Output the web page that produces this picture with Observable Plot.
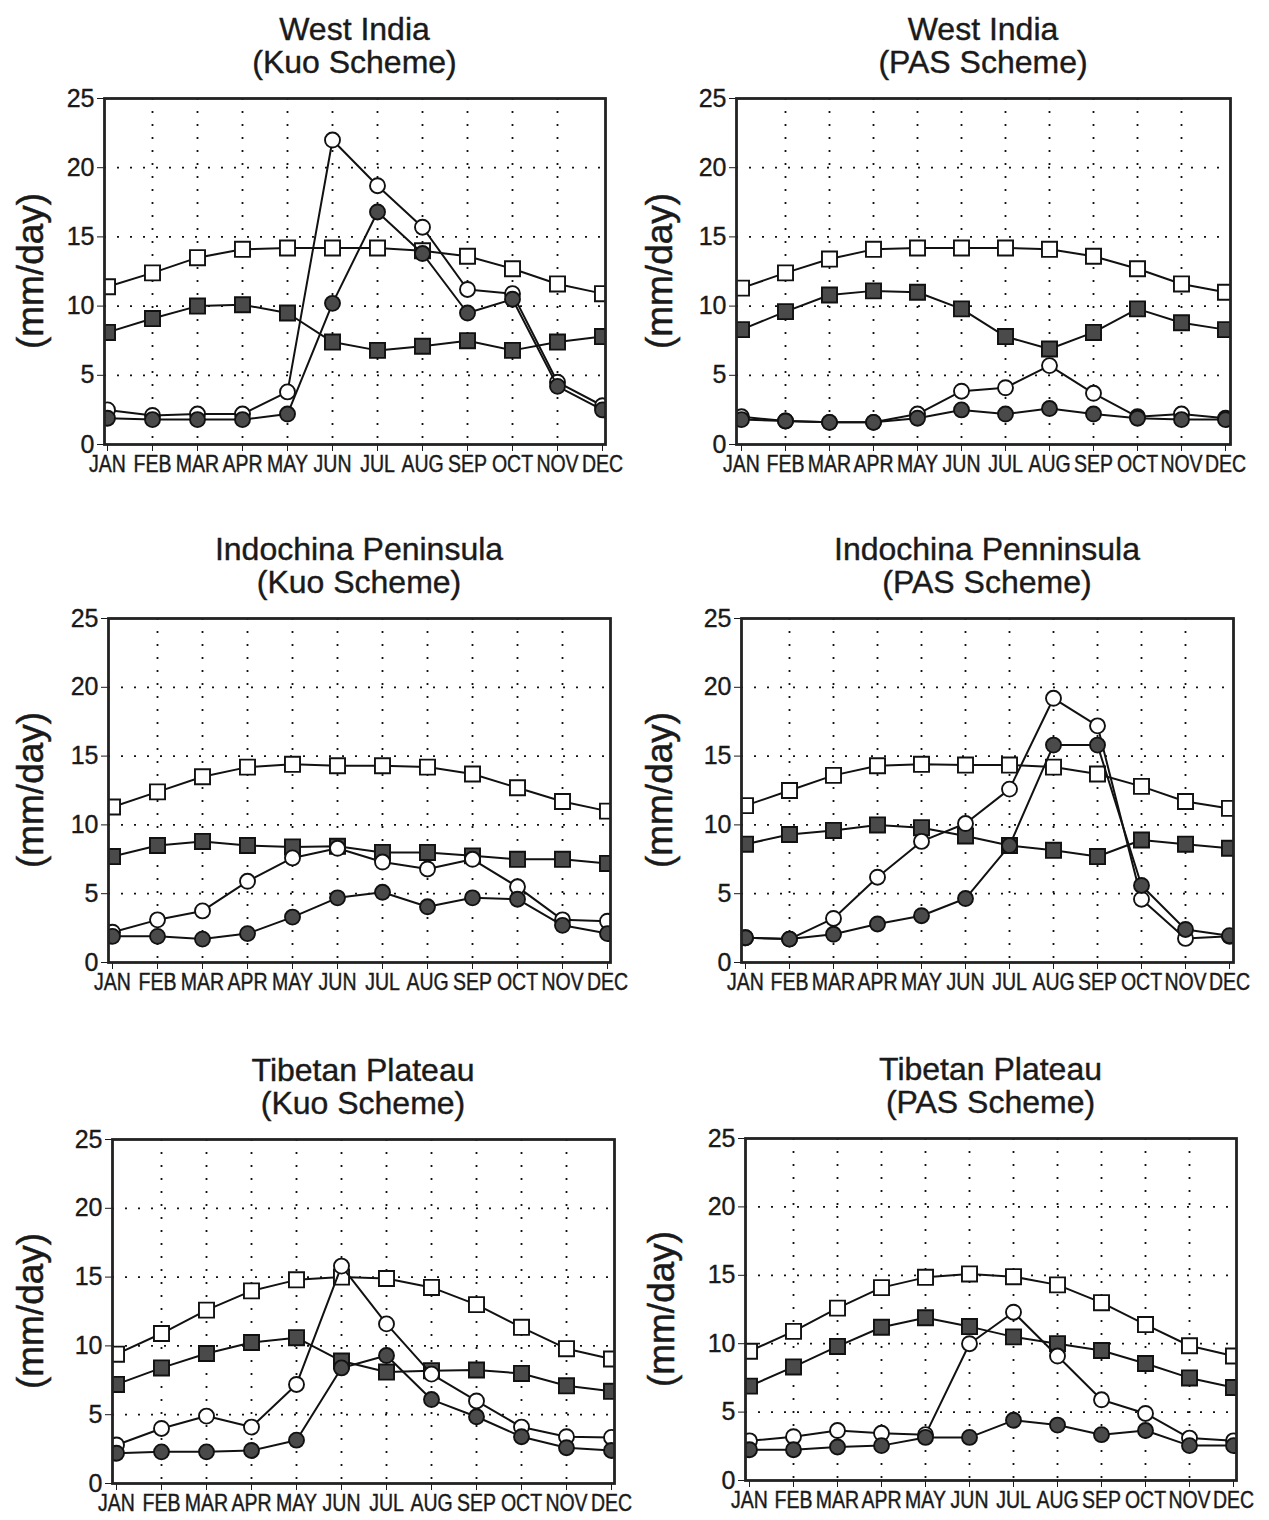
<!DOCTYPE html>
<html><head><meta charset="utf-8">
<script src="https://cdn.jsdelivr.net/npm/d3@7"></script>
<script src="https://cdn.jsdelivr.net/npm/@observablehq/plot@0.6"></script>
<style>
body{margin:0;background:#fff;}
#root{position:relative;width:1269px;height:1520px;font-family:"Liberation Sans",Arial,sans-serif;color:#1a1a1a;overflow:hidden;}
.title{position:absolute;text-align:center;font-size:32px;line-height:33px;white-space:nowrap;transform:translateX(-50%);-webkit-text-stroke:0.4px #1a1a1a;}
.ylab{position:absolute;font-size:37px;white-space:nowrap;transform:translate(-50%,-50%) rotate(-90deg);-webkit-text-stroke:0.5px #1a1a1a;}
.panel{position:absolute;}
</style></head><body><div id="root"></div>
<script>
const months = ["JAN","FEB","MAR","APR","MAY","JUN","JUL","AUG","SEP","OCT","NOV","DEC"];
const yTicks = [0,5,10,15,20,25];
const gridY = [5,10,15,20];

// West India (Kuo)
const wiKuoOpenSq   = [11.4,12.4,13.5,14.1,14.2,14.2,14.2,14.0,13.6,12.7,11.6,10.9];
const wiKuoFilledSq = [8.1,9.1,10.0,10.1,9.5,7.4,6.8,7.1,7.5,6.8,7.4,7.8];
const wiKuoOpenCi   = [2.5,2.1,2.2,2.2,3.8,22.0,18.7,15.7,11.2,10.9,4.5,2.8];
const wiKuoFilledCi = [1.9,1.8,1.8,1.8,2.2,10.2,16.8,13.8,9.5,10.5,4.2,2.5];
// West India (PAS)
const wiPasOpenSq   = [11.3,12.4,13.4,14.1,14.2,14.2,14.2,14.1,13.6,12.7,11.6,11.0];
const wiPasFilledSq = [8.3,9.6,10.8,11.1,11.0,9.8,7.8,6.9,8.1,9.8,8.8,8.3];
const wiPasOpenCi   = [2.0,1.7,1.6,1.6,2.2,3.85,4.1,5.7,3.7,2.0,2.2,1.9];
const wiPasFilledCi = [1.8,1.7,1.6,1.6,1.9,2.5,2.2,2.6,2.2,1.9,1.8,1.8];
// Indochina Peninsula (Kuo)
const icKuoOpenSq   = [11.3,12.4,13.5,14.2,14.4,14.3,14.3,14.2,13.7,12.7,11.7,11.0];
const icKuoFilledSq = [7.7,8.5,8.8,8.5,8.4,8.45,8.0,8.0,7.75,7.5,7.5,7.2];
const icKuoOpenCi   = [2.2,3.1,3.75,5.9,7.6,8.3,7.3,6.8,7.5,5.5,3.1,3.0];
const icKuoFilledCi = [1.9,1.9,1.7,2.1,3.3,4.7,5.1,4.05,4.7,4.6,2.7,2.1];
// Indochina Penninsula (PAS)
const icPasOpenSq   = [11.4,12.5,13.6,14.3,14.4,14.35,14.35,14.2,13.7,12.8,11.7,11.2];
const icPasFilledSq = [8.6,9.3,9.6,10.0,9.8,9.2,8.5,8.15,7.7,8.9,8.6,8.3];
const icPasOpenCi   = [1.8,1.7,3.2,6.2,8.8,10.1,12.6,19.2,17.2,4.6,1.75,1.9];
const icPasFilledCi = [1.8,1.7,2.05,2.8,3.4,4.65,8.5,15.8,15.8,5.6,2.4,1.95];
// Tibetan Plateau (Kuo)
const tpKuoOpenSq   = [9.4,10.9,12.6,14.0,14.8,15.0,14.9,14.25,13.0,11.35,9.8,9.05];
const tpKuoFilledSq = [7.2,8.4,9.45,10.25,10.6,8.9,8.1,8.2,8.25,8.0,7.1,6.7];
const tpKuoOpenCi   = [2.8,4.0,4.9,4.1,7.2,15.8,11.6,7.95,6.0,4.1,3.4,3.35];
const tpKuoFilledCi = [2.2,2.3,2.3,2.4,3.15,8.4,9.3,6.1,4.85,3.4,2.6,2.4];
// Tibetan Plateau (PAS)
const tpPasOpenSq   = [9.45,10.9,12.6,14.1,14.85,15.1,14.9,14.3,13.0,11.4,9.85,9.1];
const tpPasFilledSq = [6.9,8.3,9.8,11.2,11.9,11.25,10.5,10.0,9.5,8.55,7.5,6.8];
const tpPasOpenCi   = [2.9,3.2,3.65,3.45,3.35,10.0,12.3,9.1,5.9,4.9,3.1,2.9];
const tpPasFilledCi = [2.25,2.25,2.45,2.55,3.15,3.15,4.4,4.05,3.35,3.65,2.55,2.55];

const panels = [
  {t1:"West India", t2:"(Kuo Scheme)", L:104, R:605, T:98, B:444, ylx:31,
   s:[wiKuoOpenSq, wiKuoFilledSq, wiKuoOpenCi, wiKuoFilledCi]},
  {t1:"West India", t2:"(PAS Scheme)", L:736, R:1230, T:98, B:444, ylx:660,
   s:[wiPasOpenSq, wiPasFilledSq, wiPasOpenCi, wiPasFilledCi]},
  {t1:"Indochina Peninsula", t2:"(Kuo Scheme)", L:108, R:610, T:618, B:962, ylx:31,
   s:[icKuoOpenSq, icKuoFilledSq, icKuoOpenCi, icKuoFilledCi]},
  {t1:"Indochina Penninsula", t2:"(PAS Scheme)", L:741, R:1233, T:618, B:962, ylx:660,
   s:[icPasOpenSq, icPasFilledSq, icPasOpenCi, icPasFilledCi]},
  {t1:"Tibetan Plateau", t2:"(Kuo Scheme)", L:112, R:614, T:1139, B:1483, ylx:31,
   s:[tpKuoOpenSq, tpKuoFilledSq, tpKuoOpenCi, tpKuoFilledCi]},
  {t1:"Tibetan Plateau", t2:"(PAS Scheme)", L:745, R:1236, T:1138, B:1480, ylx:662,
   s:[tpPasOpenSq, tpPasFilledSq, tpPasOpenCi, tpPasFilledCi]},
];

const styles = [
  {symbol:"square", fill:"white", r:8.5},
  {symbol:"square", fill:"#4a4a4a", r:8.5},
  {symbol:"circle", fill:"white", r:7.5},
  {symbol:"circle", fill:"#4a4a4a", r:7.5},
];

const root = document.getElementById("root");
const mL = 60, mR = 30, mT = 15, mB = 42;

for (const p of panels) {
  const fw = p.R - p.L, fh = p.B - p.T;
  const marks = [
    Plot.ruleY(gridY, {stroke:"#111", strokeWidth:1.8, strokeDasharray:"2,11"}),
    Plot.ruleX(months.slice(1, -1), {stroke:"#111", strokeWidth:1.8, strokeDasharray:"2,11"}),
  ];
  p.s.forEach((vals, i) => {
    const data = months.map((m, j) => ({month:m, value:vals[j]}));
    const st = styles[i];
    marks.push(Plot.line(data, {x:"month", y:"value", stroke:"#111", strokeWidth:2}));
    marks.push(Plot.dot(data, {x:"month", y:"value", symbol:st.symbol, r:st.r, fill:st.fill, stroke:"#111", strokeWidth:1.9, clip:true}));
  });
  marks.push(Plot.frame({stroke:"#222", strokeWidth:2.8}));

  const svg = Plot.plot({
    width: fw + mL + mR,
    height: fh + mT + mB,
    marginLeft: mL, marginRight: mR, marginTop: mT, marginBottom: mB,
    style: {fontSize:"19.5px", fontFamily:"'Liberation Sans', Arial, sans-serif", color:"#1a1a1a", background:"transparent", overflow:"visible"},
    x: {type:"point", domain: months, padding:0, label:null, tickSize:7, tickPadding:4},
    y: {domain:[0,25], ticks: yTicks, label:null, tickSize:7, tickPadding:3},
    marks
  });
  const wrap = document.createElement("div");
  wrap.className = "panel";
  wrap.style.left = (p.L - mL) + "px";
  wrap.style.top = (p.T - mT) + "px";
  wrap.appendChild(svg);
  root.appendChild(wrap);

  // month labels: narrow font, stretched vertically so adjacent labels abut like the original
  d3.select(svg).selectAll("g[aria-label='x-axis tick label'] text, g[aria-label='x-axis'] text")
    .each(function() {
      const tr = this.getAttribute("transform") || "";
      this.setAttribute("transform", tr + " scale(1,1.22)");
    })
    .style("stroke", "#1a1a1a").style("stroke-width", "0.35px");
  d3.select(svg).selectAll("g[aria-label='y-axis tick label'] text, g[aria-label='y-axis'] text")
    .style("font-size", "25px").style("stroke", "#1a1a1a").style("stroke-width", "0.35px");

  const t = document.createElement("div");
  t.className = "title";
  t.style.left = ((p.L + p.R) / 2) + "px";
  t.style.top = (p.T - 85) + "px";
  t.innerHTML = p.t1 + "<br>" + p.t2;
  root.appendChild(t);

  const yl = document.createElement("div");
  yl.className = "ylab";
  yl.style.left = p.ylx + "px";
  yl.style.top = ((p.T + p.B) / 2) + "px";
  yl.textContent = "(mm/day)";
  root.appendChild(yl);
}
</script></body></html>
